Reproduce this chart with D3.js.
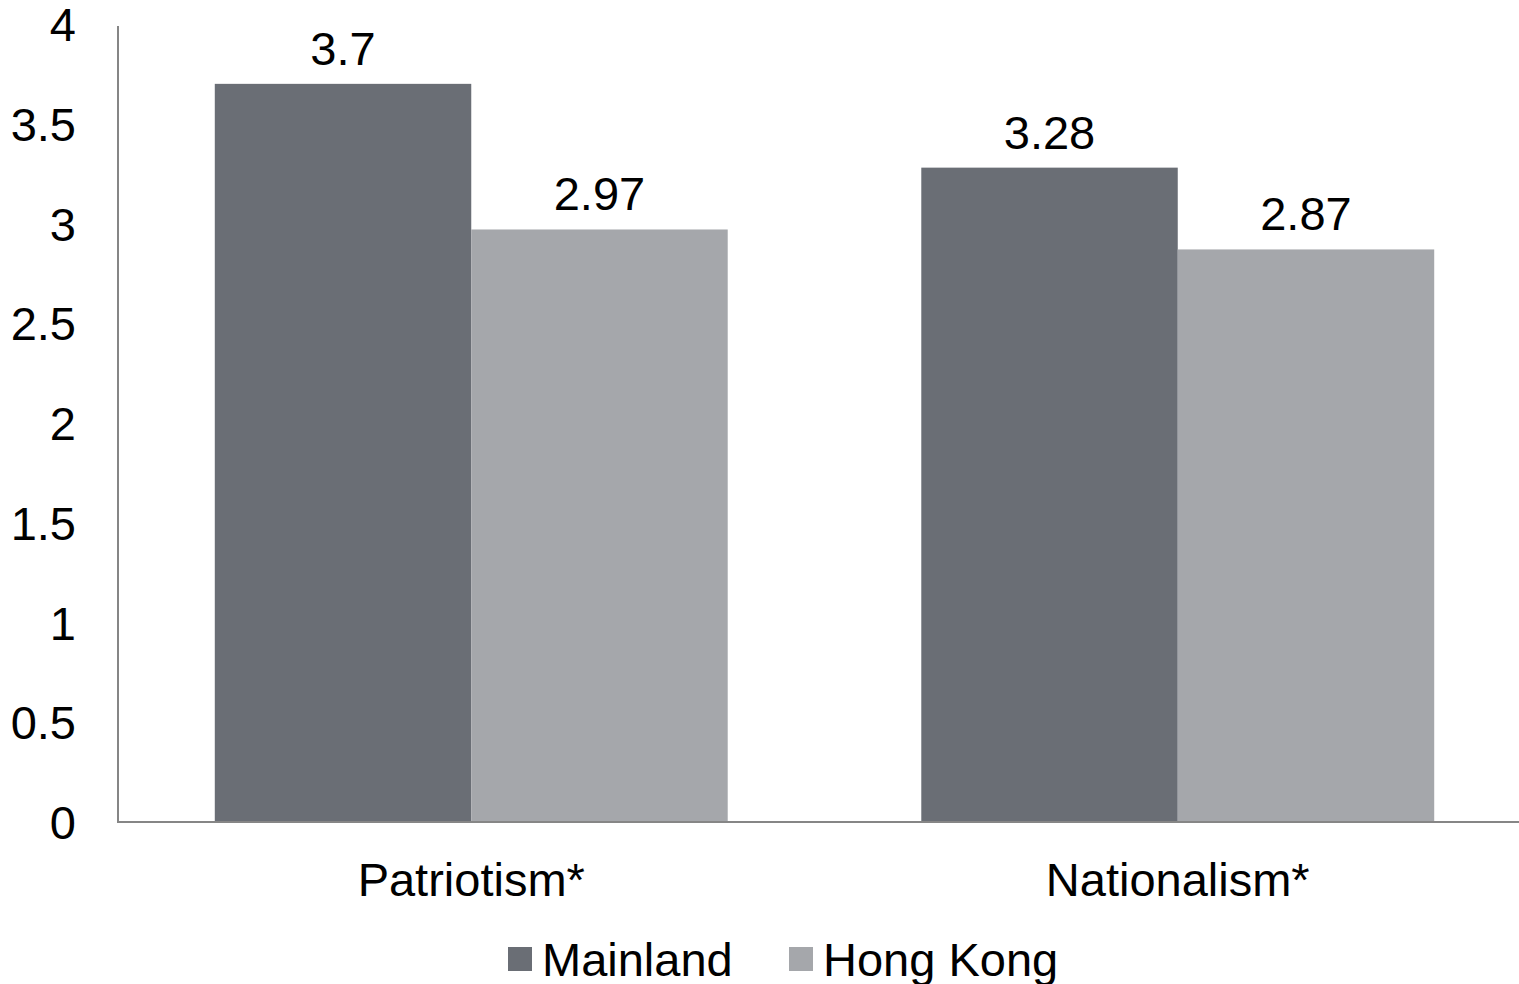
<!DOCTYPE html>
<html lang="en">
<head>
    <meta charset="UTF-8">
    <title>Patriotism and nationalism</title>
    <script src="https://cdn.jsdelivr.net/npm/d3@7"></script>
    <style>
        body { margin: 0; background: #fff; }
        text {
            font-family: 'Liberation Sans', Arial, sans-serif;
            font-size: 47px;
            fill: #000;
        }
    </style>
</head>
<body>
<svg id="chart" width="1519" height="984"></svg>
<script>
    const categories = ["Patriotism*", "Nationalism*"];
    const seriesNames = ["Mainland", "Hong Kong"];
    const mainland = [3.7, 3.28];
    const hongKong = [2.97, 2.87];
    const yTicks = [0, 0.5, 1, 1.5, 2, 2.5, 3, 3.5, 4];

    const colors = {"Mainland": "#6a6e75", "Hong Kong": "#a5a7ab"};
    const rows = categories.map((c, i) => ({cat: c, values: [
        {name: "Mainland", v: mainland[i]},
        {name: "Hong Kong", v: hongKong[i]}
    ]}));

    const svg = d3.select("#chart");

    const x = d3.scaleBand().domain(categories).range([118, 1531])
        .paddingInner(0.274).paddingOuter(0.137);
    const xs = d3.scaleBand().domain(seriesNames).range([0, x.bandwidth()]);
    const y = d3.scaleLinear().domain([0, 4]).range([822, 24]);

    // y tick labels (no tick marks)
    svg.append("g").selectAll("text")
        .data(yTicks).join("text")
        .attr("x", 76)
        .attr("y", d => y(d) + 17)
        .attr("text-anchor", "end")
        .text(d => d);

    // bars
    const groups = svg.append("g").selectAll("g")
        .data(rows).join("g")
        .attr("transform", d => `translate(${x(d.cat)},0)`);

    groups.selectAll("rect")
        .data(d => d.values).join("rect")
        .attr("x", d => xs(d.name))
        .attr("y", d => y(d.v))
        .attr("width", xs.bandwidth())
        .attr("height", d => y(0) - y(d.v))
        .attr("fill", d => colors[d.name]);

    groups.selectAll("text.val")
        .data(d => d.values).join("text")
        .attr("class", "val")
        .attr("x", d => xs(d.name) + xs.bandwidth() / 2)
        .attr("y", d => y(d.v) - 19)
        .attr("text-anchor", "middle")
        .text(d => d.v);

    // axes lines
    svg.append("line")
        .attr("x1", 118).attr("x2", 118)
        .attr("y1", y(4) + 2).attr("y2", y(0))
        .attr("stroke", "#868686").attr("stroke-width", 2);
    svg.append("line")
        .attr("x1", 117).attr("x2", 1519)
        .attr("y1", y(0)).attr("y2", y(0))
        .attr("stroke", "#868686").attr("stroke-width", 2);

    // category labels
    svg.append("g").selectAll("text")
        .data(categories).join("text")
        .attr("x", d => x(d) + x.bandwidth() / 2)
        .attr("y", 896)
        .attr("text-anchor", "middle")
        .text(d => d);

    // legend
    const legendX = [508, 789];
    const legend = svg.append("g").selectAll("g")
        .data(seriesNames).join("g")
        .attr("transform", (d, i) => `translate(${legendX[i]},947)`);
    legend.append("rect")
        .attr("width", 24).attr("height", 24)
        .attr("fill", d => colors[d]);
    legend.append("text")
        .attr("x", 34).attr("y", 29)
        .text(d => d);
</script>
</body>
</html>
